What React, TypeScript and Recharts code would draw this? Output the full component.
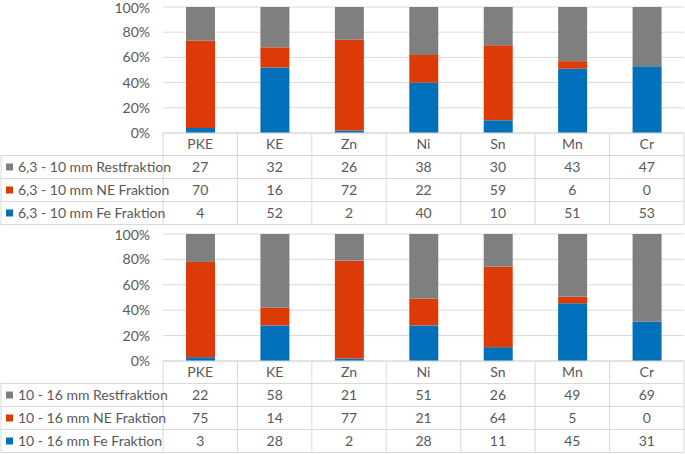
import { BarChart, Bar, XAxis, YAxis, CartesianGrid } from 'recharts';

const categories = ['PKE', 'KE', 'Zn', 'Ni', 'Sn', 'Mn', 'Cr'];

const rest1 = [27, 32, 26, 38, 30, 43, 47];
const ne1 = [70, 16, 72, 22, 59, 6, 0];
const fe1 = [4, 52, 2, 40, 10, 51, 53];

const rest2 = [22, 58, 21, 51, 26, 49, 69];
const ne2 = [75, 14, 77, 21, 64, 5, 0];
const fe2 = [3, 28, 2, 28, 11, 45, 31];

const yTicks = [0, 0.2, 0.4, 0.6, 0.8, 1];

const W = 685;
const H = 227;
const Y_AXIS_W = 163;
const RIGHT = 1;
const HEAD_H = 22.5;
const ROW_H = 23;
const GRID = '#d9d9d9';
const TEXT = '#595959';
const FONT = 'Lato, "Open Sans", sans-serif';
const COLORS = { rest: '#7f7f7f', ne: '#dc3b07', fe: '#0070bb' };

const band = (W - Y_AXIS_W - RIGHT) / categories.length;

interface Row {
    label: string;
    color: string;
    values: number[];
}

function TableTick(props: any) {
    const { x, y, payload, index, rows } = props;
    const left = x - band / 2;
    const right = x + band / 2;
    const last = index === categories.length - 1;
    const bottom = y + HEAD_H + ROW_H * rows.length;
    return (
        <g fontFamily={FONT} fontSize={14} fill={TEXT}>
            <line x1={left} y1={y} x2={left} y2={bottom} stroke={GRID} />
            {last && <line x1={right} y1={y} x2={right} y2={bottom} stroke={GRID} />}
            <line x1={left} y1={y} x2={right} y2={y} stroke={GRID} />
            <text x={x} y={y + HEAD_H / 2 + 5} textAnchor="middle">{payload.value}</text>
            {rows.map((r: Row, i: number) => {
                const top = y + HEAD_H + i * ROW_H;
                return (
                    <g key={r.label}>
                        <line x1={left} y1={top} x2={right} y2={top} stroke={GRID} />
                        <text x={x} y={top + ROW_H / 2 + 5} textAnchor="middle">{r.values[index]}</text>
                    </g>
                );
            })}
            <line x1={left} y1={bottom} x2={right} y2={bottom} stroke={GRID} />
            {index === 0 && (
                <g>
                    {rows.map((r: Row, i: number) => {
                        const top = y + HEAD_H + i * ROW_H;
                        return (
                            <g key={r.label}>
                                <line x1={1} y1={top} x2={left} y2={top} stroke={GRID} />
                                <rect x={6} y={top + ROW_H / 2 - 3.5} width={7} height={7} fill={r.color} />
                                <text x={18} y={top + ROW_H / 2 + 5} textAnchor="start">{r.label}</text>
                            </g>
                        );
                    })}
                    <line x1={1} y1={y + HEAD_H} x2={1} y2={bottom} stroke={GRID} />
                    <line x1={1} y1={bottom} x2={left} y2={bottom} stroke={GRID} />
                </g>
            )}
        </g>
    );
}

function Panel({ prefix, rest, ne, fe, axisH, bottomM }: { prefix: string; rest: number[]; ne: number[]; fe: number[]; axisH: number; bottomM: number }) {
    const data = categories.map((c, i) => ({ name: c, rest: rest[i], ne: ne[i], fe: fe[i] }));
    const rows: Row[] = [
        { label: `${prefix} Restfraktion`, color: COLORS.rest, values: rest },
        { label: `${prefix} NE Fraktion`, color: COLORS.ne, values: ne },
        { label: `${prefix} Fe Fraktion`, color: COLORS.fe, values: fe },
    ];
    return (
        <BarChart width={W} height={H} data={data} stackOffset="expand"
            margin={{ top: 7, right: RIGHT, bottom: bottomM, left: 0 }}>
            <CartesianGrid vertical={false} stroke={GRID} />
            <YAxis
                width={Y_AXIS_W}
                domain={[0, 1]}
                ticks={yTicks}
                axisLine={false}
                tickLine={false}
                tickMargin={7}
                tickFormatter={(v: number) => `${Math.round(v * 100)}%`}
                tick={{ fontSize: 14, fill: TEXT, fontFamily: FONT }}
            />
            <XAxis
                dataKey="name"
                height={axisH}
                axisLine={false}
                tickLine={false}
                tickSize={0}
                tickMargin={0}
                interval={0}
                tick={(p: any) => <TableTick {...p} rows={rows} />}
            />
            <Bar dataKey="fe" stackId="a" fill={COLORS.fe} barSize={29} isAnimationActive={false} />
            <Bar dataKey="ne" stackId="a" fill={COLORS.ne} barSize={29} isAnimationActive={false} />
            <Bar dataKey="rest" stackId="a" fill={COLORS.rest} barSize={29} isAnimationActive={false} />
        </BarChart>
    );
}

export default function App() {
    return (
        <div style={{ position: 'absolute', left: 0, top: 0, width: W, height: 454, background: '#fff' }}>
            <Panel prefix="6,3 - 10 mm" rest={rest1} ne={ne1} fe={fe1} axisH={91} bottomM={3} />
            <Panel prefix="10 - 16 mm" rest={rest2} ne={ne2} fe={fe2} axisH={92} bottomM={1} />
        </div>
    );
}
